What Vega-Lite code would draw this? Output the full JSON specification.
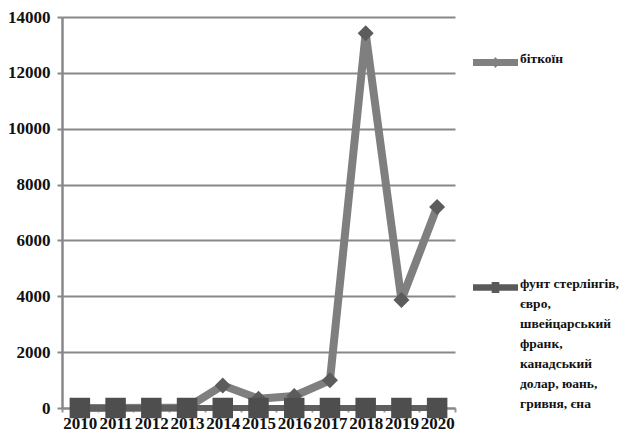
{
  "$schema": "https://vega.github.io/schema/vega-lite/v6.json",
  "autosize": {"type": "none"},
  "width": 393,
  "height": 391,
  "padding": {"left": 62, "top": 17, "right": 184, "bottom": 31},
  "background": "white",
  "config": {
    "view": {"stroke": null},
    "font": "Liberation Serif"
  },
  "data": {
    "values": [
      {"year": "2010", "series": "біткоїн", "value": 0},
      {"year": "2011", "series": "біткоїн", "value": 1},
      {"year": "2012", "series": "біткоїн", "value": 5},
      {"year": "2013", "series": "біткоїн", "value": 13},
      {"year": "2014", "series": "біткоїн", "value": 810},
      {"year": "2015", "series": "біткоїн", "value": 330},
      {"year": "2016", "series": "біткоїн", "value": 430},
      {"year": "2017", "series": "біткоїн", "value": 990},
      {"year": "2018", "series": "біткоїн", "value": 13420},
      {"year": "2019", "series": "біткоїн", "value": 3870},
      {"year": "2020", "series": "біткоїн", "value": 7200},
      {"year": "2010", "series": "фіат", "value": 0},
      {"year": "2011", "series": "фіат", "value": 0},
      {"year": "2012", "series": "фіат", "value": 0},
      {"year": "2013", "series": "фіат", "value": 0},
      {"year": "2014", "series": "фіат", "value": 0},
      {"year": "2015", "series": "фіат", "value": 0},
      {"year": "2016", "series": "фіат", "value": 0},
      {"year": "2017", "series": "фіат", "value": 0},
      {"year": "2018", "series": "фіат", "value": 0},
      {"year": "2019", "series": "фіат", "value": 0},
      {"year": "2020", "series": "фіат", "value": 0}
    ]
  },
  "encoding": {
    "x": {
      "field": "year",
      "type": "ordinal",
      "scale": {"type": "band", "paddingInner": 0, "paddingOuter": 0},
      "axis": {
        "title": null,
        "labelAngle": 0,
        "labelFont": "Liberation Serif",
        "labelFontWeight": "bold",
        "labelFontSize": 17,
        "labelColor": "#111",
        "labelPadding": 3,
        "tickBand": "extent",
        "tickSize": 4,
        "tickColor": "#999",
        "tickWidth": 2,
        "domainColor": "#888",
        "domainWidth": 2,
        "grid": false
      }
    },
    "y": {
      "field": "value",
      "type": "quantitative",
      "scale": {"domain": [0, 14000], "nice": false},
      "axis": {
        "title": null,
        "values": [0, 2000, 4000, 6000, 8000, 10000, 12000, 14000],
        "format": "d",
        "labelFont": "Liberation Serif",
        "labelFontWeight": "bold",
        "labelFontSize": 17,
        "labelColor": "#111",
        "labelPadding": 7,
        "tickSize": 5,
        "tickColor": "#888",
        "tickWidth": 2,
        "domainColor": "#888",
        "domainWidth": 2.5,
        "gridColor": "#888",
        "gridWidth": 2
      }
    }
  },
  "layer": [
    {
      "transform": [{"filter": "datum.series === 'біткоїн'"}],
      "mark": {"type": "line", "stroke": "#7f7f7f", "strokeWidth": 8, "strokeJoin": "round"},
      "encoding": {}
    },
    {
      "transform": [{"filter": "datum.series === 'біткоїн'"}],
      "mark": {"type": "point", "shape": "diamond", "filled": true, "fill": "#5c5c5c", "opacity": 1, "size": 256}
    },
    {
      "transform": [{"filter": "datum.series === 'фіат'"}],
      "mark": {"type": "line", "stroke": "#5e5e5e", "strokeWidth": 6},
      "encoding": {}
    },
    {
      "transform": [{"filter": "datum.series === 'фіат'"}],
      "mark": {"type": "point", "shape": "square", "filled": true, "fill": "#4e4e4e", "opacity": 1, "size": 420}
    },
    {
      "mark": {"type": "point", "filled": true, "opacity": 0},
      "encoding": {
        "color": {
          "field": "series",
          "type": "nominal",
          "sort": ["біткоїн", "фіат"],
          "scale": {"domain": ["біткоїн", "фіат"], "range": ["#808080", "#5a5a5a"]},
          "legend": {
            "title": null,
            "orient": "none",
            "legendX": 411,
            "legendY": 23,
            "padding": 0,
            "rowPadding": 197,
            "symbolOpacity": 1,
            "symbolSize": 2025,
            "symbolStrokeWidth": 0,
            "labelFont": "Liberation Serif",
            "labelFontWeight": "bold",
            "labelFontSize": 13.5,
            "labelColor": "#111",
            "labelOffset": 2,
            "labelLimit": 200,
            "labelBaseline": "alphabetic",
            "labelExpr": "datum.label === 'біткоїн' ? 'біткоїн' : ['фунт стерлінгів,', 'євро,', 'швейцарський', 'франк,', 'канадський', 'долар, юань,', 'гривня, єна']",
            "encode": {"labels": {"update": {"lineHeight": {"value": 20}}}}
          }
        },
        "shape": {
          "field": "series",
          "type": "nominal",
          "scale": {
            "domain": ["біткоїн", "фіат"],
            "range": [
              "M -1 -0.16 L 1 -0.16 L 1 0.16 L -1 0.16 Z M 0 -0.24 L 0.2 0 L 0 0.24 L -0.2 0 Z",
              "M -1 -0.14 L 1 -0.14 L 1 0.14 L -1 0.14 Z M -0.17 -0.24 L 0.17 -0.24 L 0.17 0.24 L -0.17 0.24 Z"
            ]
          },
          "legend": null
        }
      }
    }
  ]
}
